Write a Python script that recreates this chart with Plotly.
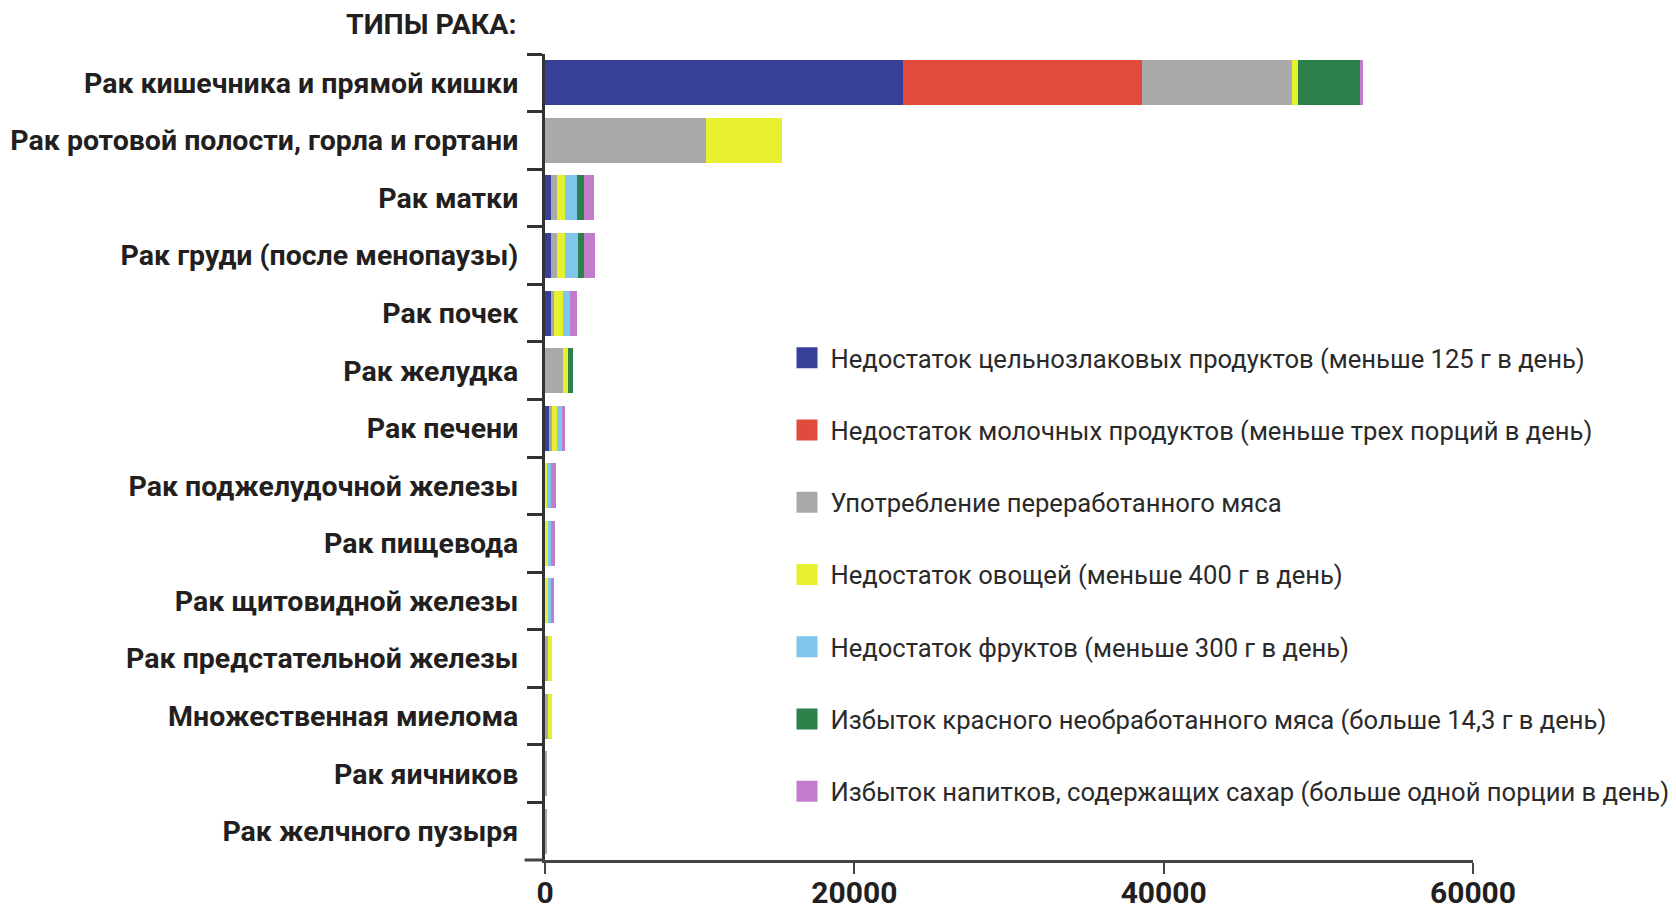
import plotly.graph_objects as go

categories = [
    "Рак кишечника и прямой кишки",
    "Рак ротовой полости, горла и гортани",
    "Рак матки",
    "Рак груди (после менопаузы)",
    "Рак почек",
    "Рак желудка",
    "Рак печени",
    "Рак поджелудочной железы",
    "Рак пищевода",
    "Рак щитовидной железы",
    "Рак предстательной железы",
    "Множественная миелома",
    "Рак яичников",
    "Рак желчного пузыря",
]

series_names = [
    "Недостаток цельнозлаковых продуктов (меньше 125 г в день)",
    "Недостаток молочных продуктов (меньше трех порций в день)",
    "Употребление переработанного мяса",
    "Недостаток овощей (меньше 400 г в день)",
    "Недостаток фруктов (меньше 300 г в день)",
    "Избыток красного необработанного мяса (больше 14,3 г в день)",
    "Избыток напитков, содержащих сахар (больше одной порции в день)",
]

whole_grains = [23170, 0, 390, 400, 380, 0, 280, 0, 0, 0, 0, 0, 0, 0]
dairy = [15400, 0, 0, 0, 0, 0, 0, 0, 0, 0, 0, 0, 0, 0]
processed_meat = [9740, 10400, 370, 360, 230, 1150, 170, 0, 0, 0, 170, 190, 150, 140]
vegetables = [360, 4900, 540, 560, 530, 340, 310, 150, 200, 190, 280, 260, 0, 0]
fruits = [0, 0, 800, 790, 480, 0, 320, 260, 200, 210, 0, 0, 0, 0]
red_meat = [4020, 0, 390, 380, 0, 340, 0, 0, 0, 0, 0, 0, 0, 0]
sugary_drinks = [220, 0, 710, 720, 430, 0, 210, 320, 220, 210, 0, 0, 0, 0]

x_ticks = [0, 20000, 40000, 60000]

series_values = [whole_grains, dairy, processed_meat, vegetables, fruits, red_meat, sugary_drinks]
colors = ["#383f99", "#e04b3e", "#a9a9a9", "#e7f02f", "#7fc6ec", "#2d8049", "#c17ccc"]

fig = go.Figure()
for name, vals, col in zip(series_names, series_values, colors):
    fig.add_trace(go.Bar(
        y=categories, x=vals, orientation="h", name=name,
        marker=dict(color=col, line=dict(width=0)),
        showlegend=False,
    ))
for i, (name, col) in enumerate(zip(series_names, colors)):
    fig.add_trace(go.Scatter(
        x=[None], y=[None], mode="markers", name=name,
        marker=dict(symbol="square", size=16, color=col, line=dict(color=col, width=7)),
        legendgroup=f"g{i}", showlegend=True,
    ))

fig.update_layout(
    barmode="stack",
    bargap=0.22,
    width=1676, height=911,
    margin=dict(l=545, r=203, t=53.5, b=50.5, autoexpand=False),
    plot_bgcolor="white", paper_bgcolor="white",
    font=dict(family="Roboto", color="#231f20"),
    legend=dict(
        x=0.257, y=0.652, xanchor="left", yanchor="top",
        font=dict(family="Roboto", size=25.6, color="#2a2a2a"),
        tracegroupgap=36, itemwidth=37,
        bgcolor="rgba(0,0,0,0)",
    ),
    annotations=[dict(
        text="ТИПЫ РАКА:", xref="paper", yref="paper",
        x=-0.029, y=1.0366, xanchor="right", yanchor="middle",
        showarrow=False, font=dict(family="Roboto", size=28.5, weight="bold", color="#231f20"),
    )],
    shapes=[dict(
        type="line", xref="paper", yref="paper", x0=-0.022, x1=0, y0=0, y1=0,
        line=dict(color="#444", width=3),
    )],
)

fig.update_xaxes(
    range=[0, 60000], tickvals=x_ticks, ticktext=[str(v) for v in x_ticks],
    showline=True, linecolor="#444", linewidth=3,
    ticks="outside", ticklen=11, tickwidth=2, tickcolor="#444",
    showgrid=False, zeroline=False, automargin=False, ticklabelstandoff=-7,
    tickfont=dict(family="Roboto", size=30, weight="bold", color="#231f20"),
)
fig.update_yaxes(
    autorange="reversed", automargin=False,
    showline=True, linecolor="#333", linewidth=3,
    ticks="outside", tickson="boundaries", ticklen=15, tickwidth=3, tickcolor="#333",
    showgrid=False, zeroline=False, ticklabelstandoff=18,
    tickfont=dict(family="Roboto", size=28.5, weight="bold", color="#231f20"),
)

fig.write_html(
    "out.html",
    config={"displayModeBar": False},
    post_script="document.body.style.margin='0px';document.body.style.overflow='hidden';",
)
